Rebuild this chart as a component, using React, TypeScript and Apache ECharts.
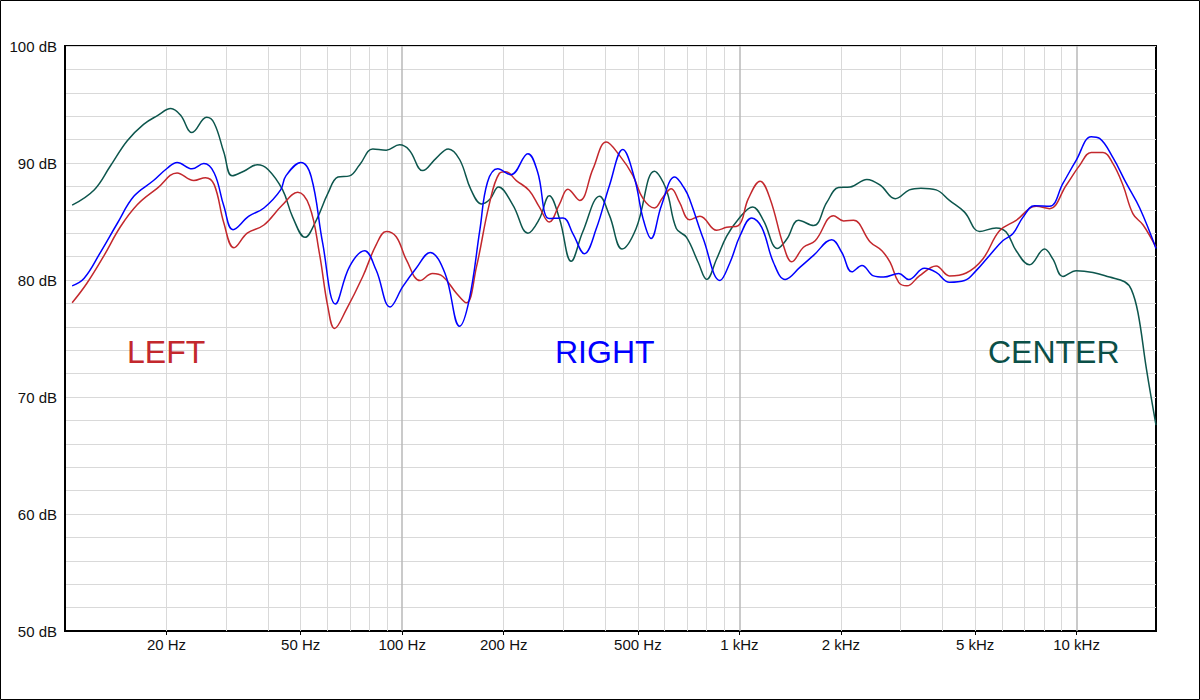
import React, { useEffect, useRef } from "react";
import * as echarts from "echarts";

// ---- Data (frequency in Hz, level in dB) ----
const leftFreq = [10.5, 11.6, 13.0, 14.6, 16.4, 18.8, 21.5, 24.1, 26.1, 27.7, 29.6, 31.7, 34.7, 38.9, 43.9, 49, 53.1, 56.8, 60.2, 63, 68.2, 76.4, 83.7, 89.7, 96, 103, 113, 123, 132, 145, 155, 166, 181, 194, 203, 218, 238, 255, 273, 293, 310, 336, 368, 403, 441, 483, 518, 560, 594, 628, 664, 712, 764, 856, 917, 993, 1063, 1152, 1233, 1351, 1430, 1549, 1678, 1902, 2037, 2180, 2443, 2646, 2800, 2968, 3140, 3418, 3833, 4198, 4706, 5273, 5908, 6621, 7590, 8316, 9318, 10210, 11050, 11980, 12820, 13730, 14700, 15750, 17200];
const leftDb = [78.05, 79.7, 82.0, 84.55, 86.45, 87.85, 89.15, 88.5, 88.75, 88.15, 84.85, 82.75, 84.0, 84.7, 86.35, 87.5, 86.3, 82.3, 77.7, 75.85, 77.45, 80.3, 83.0, 84.15, 83.7, 81.7, 79.95, 80.55, 80.3, 78.85, 78.05, 81.1, 86.4, 89.1, 89.25, 88.5, 87.65, 86.25, 84.95, 86.5, 87.75, 86.8, 89.5, 91.8, 90.65, 88.95, 86.95, 86.15, 87.1, 87.8, 86.65, 85.15, 85.45, 84.25, 84.5, 84.65, 86.95, 88.45, 86.95, 82.95, 81.55, 82.8, 83.35, 85.5, 85.05, 85.1, 83.25, 82.5, 81.5, 79.8, 79.5, 80.35, 81.2, 80.35, 80.6, 81.8, 84.2, 85.1, 86.3, 86.1, 88.1, 89.8, 90.9, 90.9, 89.95, 88.1, 85.65, 84.7, 82.8];

const rightFreq = [10.5, 11.4, 12.7, 14.3, 16.0, 18.3, 20.1, 21.5, 23.8, 25.8, 27.7, 29.6, 31.5, 35.1, 38.9, 43.6, 45.2, 50.1, 53.7, 58.1, 63.4, 69.8, 77.3, 83.7, 92.1, 100.5, 110, 121, 134, 148, 158, 170, 179, 192, 210, 236, 252, 273, 300, 321, 347, 376, 412, 451, 489, 518, 547, 587, 643, 688, 714, 782, 876, 938, 1005, 1088, 1165, 1262, 1367, 1514, 1659, 1879, 2013, 2156, 2310, 2500, 2678, 2968, 3178, 3539, 3833, 4198, 4653, 5036, 5518, 6040, 6470, 6930, 7500, 8316, 9110, 9980, 11050, 11700, 12820, 14050, 15390, 17200];
const rightDb = [79.5, 80.15, 82.3, 84.85, 87.15, 88.5, 89.55, 90.05, 89.5, 89.95, 89.15, 86.3, 84.3, 85.45, 86.15, 87.7, 88.9, 90.05, 88.85, 83.15, 77.95, 81.15, 82.5, 80.85, 77.7, 79.45, 81.0, 82.35, 80.55, 76.05, 78.3, 84.3, 88.35, 89.5, 89.0, 90.8, 89.25, 85.25, 85.3, 83.95, 82.25, 84.35, 88.1, 91.15, 88.65, 85.25, 83.55, 86.35, 88.8, 87.8, 86.8, 83.5, 79.95, 81.5, 83.8, 85.3, 84.5, 81.5, 80.05, 81.1, 82.1, 83.45, 82.35, 80.7, 81.25, 80.35, 80.25, 80.55, 80.05, 81.0, 80.65, 79.8, 79.95, 80.8, 82.1, 83.35, 83.95, 85.35, 86.35, 86.3, 88.25, 90.25, 92.25, 92.1, 90.45, 88.25, 86.15, 82.7];

const centerFreq = [10.5, 12.2, 13.6, 15.3, 17.1, 18.8, 20.6, 22.0, 23.8, 26.3, 27.7, 29.6, 31.3, 33.9, 37.2, 40, 44.2, 47.3, 51.5, 55.6, 60.2, 64.5, 69.8, 74.8, 81.8, 89.7, 98.2, 105, 115, 126, 137, 148, 160, 172, 182, 193, 213, 236, 255, 273, 293, 317, 343, 385, 412, 449, 494, 560, 606, 650, 697, 755, 800, 856, 917, 993, 1095, 1178, 1297, 1383, 1497, 1659, 1818, 1968, 2130, 2388, 2617, 2900, 3193, 3456, 3833, 4198, 4653, 5156, 5774, 6183, 6621, 7249, 8035, 8500, 9110, 9980, 11180, 12530, 13880, 14530, 15210, 16110, 17200];
const centerDb = [86.4, 87.7, 89.7, 91.9, 93.3, 94.05, 94.65, 94.1, 92.6, 93.9, 93.4, 90.9, 88.9, 89.3, 89.85, 89.45, 87.7, 85.4, 83.65, 85.1, 87.4, 88.8, 88.9, 89.85, 91.2, 91.1, 91.55, 91.1, 89.35, 90.4, 91.2, 90.3, 87.7, 86.5, 86.9, 87.95, 86.4, 84.0, 85.2, 87.2, 85.2, 81.6, 84.1, 87.15, 85.5, 82.65, 84.4, 89.3, 87.8, 84.4, 83.65, 81.5, 80.05, 81.8, 83.75, 85.2, 86.25, 85.1, 82.7, 83.5, 85.1, 84.65, 86.65, 87.9, 87.95, 88.6, 88.1, 86.95, 87.7, 87.85, 87.7, 86.8, 85.8, 84.15, 84.45, 84.1, 82.5, 81.3, 82.65, 81.8, 80.3, 80.8, 80.65, 80.25, 79.85, 79.2, 77.2, 72.4, 67.6];

const xLabelFreqs = [20, 50, 100, 200, 500, 1000, 2000, 5000, 10000];
const minorGridFreqs = [20, 30, 40, 50, 60, 70, 80, 90, 200, 300, 400, 500, 600, 700, 800, 900, 2000, 3000, 4000, 5000, 6000, 7000, 8000, 9000];
const majorGridFreqs = [100, 1000, 10000];
const xMin = 10;
const xMax = 17200;
const yMin = 50;
const yMax = 100;
const yStep = 10;

const seriesNames = ["LEFT", "RIGHT", "CENTER"];

const RED = "#c3282d";
const BLUE = "#0000ff";
const GREEN = "#0d564d";
const FONT = '"Liberation Sans", Arial, Helvetica, sans-serif';

const pairs = (f: number[], d: number[]) => f.map((v, i) => [v, d[i]]);

export default function App() {
  const ref = useRef<HTMLDivElement>(null);

  useEffect(() => {
    document.body.style.margin = "0";
    if (!ref.current) return;
    const chart = echarts.init(ref.current, undefined, { renderer: "svg" });

    const gridMarks = [
      ...minorGridFreqs.map((f) => ({ xAxis: f, lineStyle: { color: "#d9d9d9", width: 1, type: "solid" } })),
      ...majorGridFreqs.map((f) => ({ xAxis: f, lineStyle: { color: "#b9b9b9", width: 1.5, type: "solid" } })),
    ];

    const lineSeries = (name: string, data: number[][], color: string, z: number, withGrid = false) => ({
      type: "line",
      name,
      data,
      smooth: 0.4,
      symbol: "none",
      showSymbol: false,
      lineStyle: { color, width: 1.5 },
      itemStyle: { color },
      z,
      silent: true,
      ...(withGrid
        ? {
            markLine: {
              silent: true,
              z: 1,
              symbol: ["none", "none"],
              label: { show: false },
              animation: false,
              data: gridMarks,
            },
          }
        : {}),
    });

    chart.setOption({
      animation: false,
      backgroundColor: "#ffffff",
      grid: {
        left: 65,
        right: 44,
        top: 46,
        bottom: 69,
        show: true,
        borderColor: "#000",
        borderWidth: 2,
        backgroundColor: "#fff",
        containLabel: false,
        outerBoundsMode: "none",
      },
      xAxis: {
        type: "log",
        logBase: 10,
        min: xMin,
        max: xMax,
        axisLine: { show: true, onZero: false, lineStyle: { color: "#000", width: 2 } },
        axisTick: { show: true, customValues: xLabelFreqs, length: 4, lineStyle: { color: "#000", width: 1 } },
        axisLabel: {
          customValues: xLabelFreqs,
          margin: 6,
          color: "#111",
          fontSize: 15,
          fontFamily: FONT,
          formatter: (v: number) => (v >= 1000 ? `${v / 1000} kHz` : `${v} Hz`),
        },
        splitLine: { show: false },
        minorTick: { show: false },
        minorSplitLine: { show: false },
      },
      yAxis: {
        type: "value",
        min: yMin,
        max: yMax,
        interval: yStep,
        axisLine: { show: true, lineStyle: { color: "#000", width: 2 } },
        axisTick: { show: false },
        axisLabel: {
          margin: 8,
          color: "#111",
          fontSize: 15,
          fontFamily: FONT,
          formatter: "{value} dB",
        },
        splitLine: { show: true, lineStyle: { color: "#d9d9d9", width: 1 } },
        minorTick: { show: false, splitNumber: 5 },
        minorSplitLine: { show: true, lineStyle: { color: "#d9d9d9", width: 1 } },
      },
      series: [
        lineSeries(seriesNames[2], pairs(centerFreq, centerDb), GREEN, 3, true),
        lineSeries(seriesNames[0], pairs(leftFreq, leftDb), RED, 4),
        lineSeries(seriesNames[1], pairs(rightFreq, rightDb), BLUE, 5),
      ],
      graphic: [
        {
          type: "rect",
          silent: true,
          z: 100,
          shape: { x: 0.5, y: 0.5, width: 1199, height: 699 },
          style: { fill: "none", stroke: "#000", lineWidth: 1 },
        },
        {
          type: "text",
          z: 50,
          x: 127,
          y: 352,
          style: { text: seriesNames[0], fill: RED, font: `32px ${FONT}`, align: "left", verticalAlign: "middle", textAlign: "left", textVerticalAlign: "middle" },
        },
        {
          type: "text",
          z: 50,
          x: 555,
          y: 352,
          style: { text: seriesNames[1], fill: BLUE, font: `32px ${FONT}`, align: "left", verticalAlign: "middle", textAlign: "left", textVerticalAlign: "middle" },
        },
        {
          type: "text",
          z: 50,
          x: 988,
          y: 352,
          style: { text: seriesNames[2], fill: "#0b4f47", font: `32px ${FONT}`, align: "left", verticalAlign: "middle", textAlign: "left", textVerticalAlign: "middle" },
        },
      ],
    });

    return () => chart.dispose();
  }, []);

  return <div ref={ref} style={{ width: 1200, height: 700 }} />;
}
